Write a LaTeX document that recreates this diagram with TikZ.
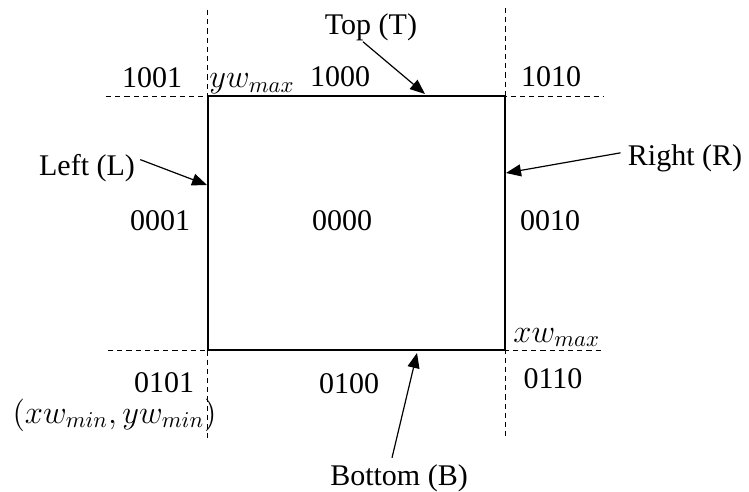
\documentclass[tikz,border=0pt]{standalone}
\usepackage{fontspec}
\setmainfont{Liberation Serif}
\usetikzlibrary{arrows.meta}
\begin{document}
\begin{tikzpicture}[x=0.5pt,y=-0.5pt,
  lbl/.style={inner sep=0pt,anchor=base,font=\fontsize{15}{18}\selectfont},
  mlbl/.style={inner sep=0pt,font=\fontsize{14.4}{17}\selectfont},
  winedge/.style={line width=1.4pt},
  guide/.style={line width=0.45pt,dash pattern=on 2.6pt off 2pt},
  pointer/.style={line width=0.6pt,-{Triangle[length=7.5pt,width=6pt]}}]
\useasboundingbox (0,0) rectangle (749,492);
% window corners
\coordinate (tl) at (208,96);
\coordinate (tr) at (505,96);
\coordinate (br) at (505,350);
\coordinate (bl) at (208,350);
% guide line ends
\coordinate (lvt) at (207,10);
\coordinate (lvb) at (207,438);
\coordinate (rvt) at (505,8);
\coordinate (rvb) at (505,440);
\coordinate (tha) at (106,96);
\coordinate (thb) at (603,96);
\coordinate (bha) at (108,350);
\coordinate (bhb) at (603,350);
% arrow tips
\coordinate (ttip) at (425,94);
\coordinate (ltip) at (207,185);
\coordinate (rtip) at (506,173);
\coordinate (btip) at (417,353);
% guides
\draw[guide] (lvt) -- (lvb);
\draw[guide] (rvt) -- (rvb);
\draw[guide] (tha) -- (thb);
\draw[guide] (bha) -- (bhb);
% window
\draw[winedge] (tl) -- (tr) -- (br) -- (bl) -- cycle;
% labels
\node[lbl] (top) at (371,35) {Top (T)};
\node[lbl] (c1001) at (152,88) {1001};
\node[mlbl,anchor=base west] (ywmax) at (209,88) {\scalebox{1.13}{$yw_{max}$}};
\node[lbl] (c1000) at (340,87) {1000};
\node[lbl] (c1010) at (551,87) {1010};
\node[lbl] (left) at (87,175) {Left (L)};
\node[lbl] (right) at (685,165) {Right (R)};
\node[lbl] (c0001) at (160,230) {0001};
\node[lbl] (c0000) at (342,230) {0000};
\node[lbl] (c0010) at (550,230) {0010};
\node[mlbl,anchor=base west] (xwmax) at (513,342) {\scalebox{1.13}{$xw_{max}$}};
\node[lbl] (c0101) at (164,392) {0101};
\node[mlbl,anchor=base east] (minpt) at (217,423) {\scalebox{1.13}{$(xw_{min}, yw_{min})$}};
\node[lbl] (c0100) at (349,393) {0100};
\node[lbl] (c0110) at (553,388) {0110};
\node[lbl] (bottom) at (399,485) {Bottom (B)};
% pointers
\draw[pointer] ([shift={(-8,0)}]top.south) -- (ttip);
\draw[pointer] ([shift={(5,-8)}]left.east) -- (ltip);
\draw[pointer] ([shift={(-7,-5)}]right.west) -- (rtip);
\draw[pointer] ([shift={(-7,-6)}]bottom.north) -- (btip);
\end{tikzpicture}
\end{document}
